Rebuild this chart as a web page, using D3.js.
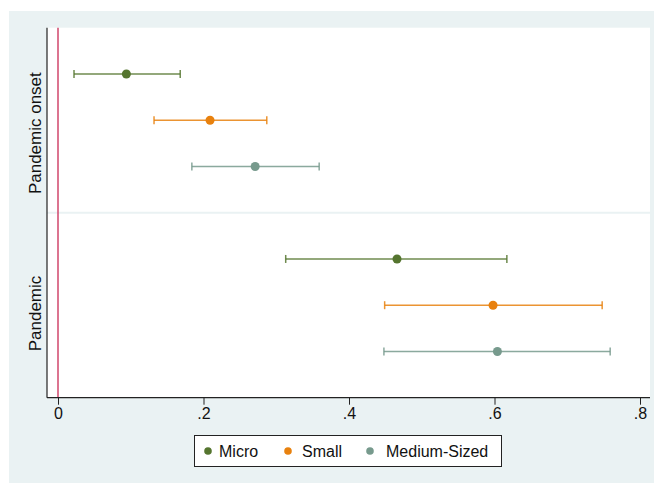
<!DOCTYPE html>
<html>
<head>
<meta charset="utf-8">
<script src="https://cdn.jsdelivr.net/npm/d3@7"></script>
<style>
  body { margin: 0; background: #fff; }
  svg { display: block; font-family: "Liberation Sans", Arial, sans-serif; }
</style>
</head>
<body>
<div id="chart"></div>
<script>
// groups shown on the y axis, top to bottom
const groups = ['Pandemic onset', 'Pandemic'];
const sizes = ['Micro', 'Small', 'Medium-Sized'];
const colors = ['#55752f', '#e8810e', '#779a8d'];

// point estimates and confidence bounds, by group then firm size
const estimates = [
  [0.094, 0.209, 0.271],
  [0.466, 0.598, 0.604]
];
const lower = [
  [0.022, 0.132, 0.184],
  [0.313, 0.449, 0.448]
];
const upper = [
  [0.168, 0.287, 0.359],
  [0.617, 0.748, 0.759]
];
const xTicks = [0, 0.2, 0.4, 0.6, 0.8];

const width = 654, height = 483;
const plot = { left: 47, right: 650, top: 27.7, bottom: 397.7 };

const svg = d3.select('#chart').append('svg')
  .attr('width', width)
  .attr('height', height);

// graph region
svg.append('rect')
  .attr('x', 9).attr('y', 11)
  .attr('width', width - 9).attr('height', height - 11)
  .attr('fill', '#eaf2f3');

svg.append('rect')
  .attr('x', plot.left).attr('y', plot.top)
  .attr('width', plot.right - plot.left).attr('height', plot.bottom - plot.top)
  .attr('fill', '#fff');

const x = d3.scaleLinear()
  .domain([0, 0.8])
  .range([58, 640]);

// rows: 0..2 first group, 3 separator, 4..6 second group
const y = d3.scaleLinear()
  .domain([-1, 7])
  .range([plot.top, plot.bottom]);

const rowOf = (g, s) => g * 4 + s;

// separator between groups
svg.append('line')
  .attr('x1', plot.left).attr('x2', plot.right)
  .attr('y1', y(3)).attr('y2', y(3))
  .attr('stroke', '#eaf2f3')
  .attr('stroke-width', 2);

// reference line at zero
svg.append('line')
  .attr('x1', x(0)).attr('x2', x(0))
  .attr('y1', plot.top).attr('y2', plot.bottom)
  .attr('stroke', '#d0466b')
  .attr('stroke-width', 1.5);

const rows = [];
groups.forEach((g, gi) => {
  sizes.forEach((s, si) => {
    rows.push({
      row: rowOf(gi, si),
      est: estimates[gi][si],
      lo: lower[gi][si],
      hi: upper[gi][si],
      color: colors[si]
    });
  });
});

const mark = svg.append('g')
  .selectAll('g')
  .data(rows)
  .join('g')
  .attr('stroke', d => d.color)
  .attr('stroke-opacity', 0.85)
  .attr('stroke-width', 1.5);

mark.append('line')
  .attr('x1', d => x(d.lo)).attr('x2', d => x(d.hi))
  .attr('y1', d => y(d.row)).attr('y2', d => y(d.row));

mark.append('line')
  .attr('x1', d => x(d.lo)).attr('x2', d => x(d.lo))
  .attr('y1', d => y(d.row) - 4).attr('y2', d => y(d.row) + 4);

mark.append('line')
  .attr('x1', d => x(d.hi)).attr('x2', d => x(d.hi))
  .attr('y1', d => y(d.row) - 4).attr('y2', d => y(d.row) + 4);

mark.append('circle')
  .attr('cx', d => x(d.est))
  .attr('cy', d => y(d.row))
  .attr('r', 4.5)
  .attr('fill', d => d.color)
  .attr('stroke', 'none');

// x axis
const xAxis = d3.axisBottom(x)
  .tickValues(xTicks)
  .tickSize(7)
  .tickPadding(3)
  .tickFormat(d => d === 0 ? '0' : d3.format('.1f')(d).replace(/^0/, ''));

const gx = svg.append('g')
  .attr('transform', `translate(0,${plot.bottom})`)
  .call(xAxis);
gx.select('.domain').remove();
gx.selectAll('.tick line').attr('stroke', '#222').attr('stroke-width', 1);
gx.selectAll('.tick text')
  .attr('fill', '#111')
  .style('font-size', '16px')
  .style('font-family', '"Liberation Sans", Arial, sans-serif');

svg.append('line')
  .attr('x1', plot.left).attr('x2', plot.right)
  .attr('y1', plot.bottom).attr('y2', plot.bottom)
  .attr('stroke', '#222').attr('stroke-width', 1.2);

svg.append('line')
  .attr('x1', plot.left).attr('x2', plot.left)
  .attr('y1', plot.top).attr('y2', plot.bottom)
  .attr('stroke', '#222').attr('stroke-width', 1.2);

// group labels on the y axis
const labelRows = [1.28, 5.18];
svg.append('g')
  .selectAll('text')
  .data(groups)
  .join('text')
  .attr('transform', (d, i) => `translate(41,${y(labelRows[i])}) rotate(-90)`)
  .attr('text-anchor', 'middle')
  .attr('fill', '#111')
  .style('font-size', '17px')
  .text(d => d);

// legend
const legend = svg.append('g');
legend.append('rect')
  .attr('x', 194.5).attr('y', 435.5)
  .attr('width', 307).attr('height', 31)
  .attr('fill', '#fff')
  .attr('stroke', '#222')
  .attr('stroke-width', 1);

const legendX = [208, 288, 370];
const item = legend.selectAll('g.item')
  .data(sizes)
  .join('g')
  .attr('class', 'item')
  .attr('transform', (d, i) => `translate(${legendX[i]},451)`);

item.append('circle')
  .attr('r', 3.8)
  .attr('fill', (d, i) => colors[i]);

item.append('text')
  .attr('x', (d, i) => [11, 14, 16][i])
  .attr('dy', '0.35em')
  .attr('fill', '#111')
  .style('font-size', '16px')
  .text(d => d);
</script>
</body>
</html>
